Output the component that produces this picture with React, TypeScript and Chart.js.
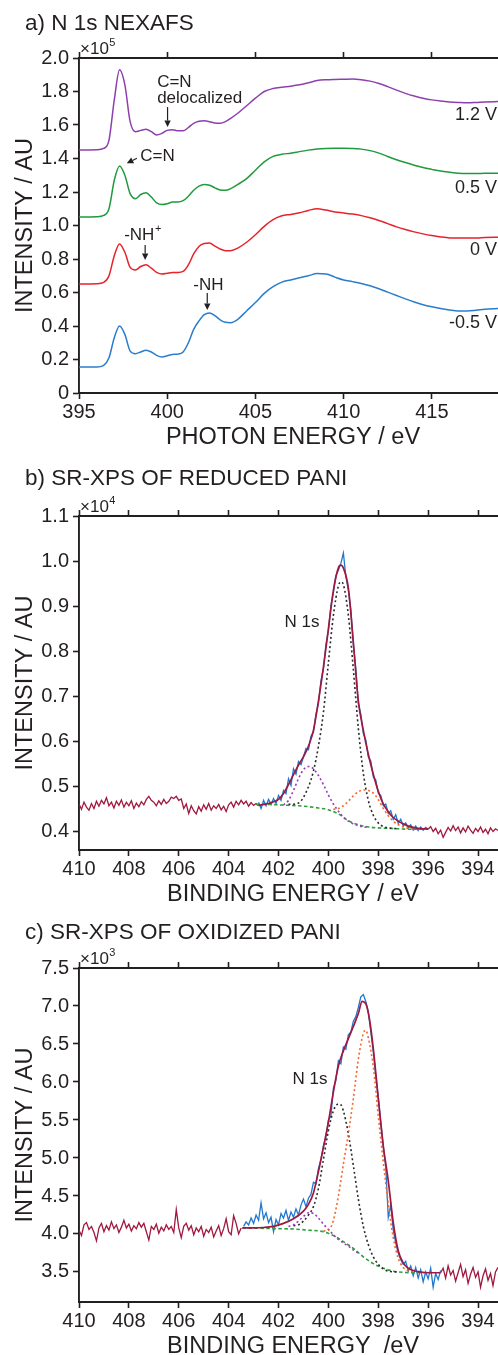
import React, { useEffect, useRef } from "react";
import { Chart, registerables } from "chart.js";

Chart.register(...registerables);

const FONT = '"Liberation Sans", Arial, Helvetica, sans-serif';
const INK = "#231f20";

type Pair = [number, number];

// ---------------- a) N 1s NEXAFS ----------------
const nexafsEnergy = [395, 396, 396.4, 396.7, 397.0, 397.3, 397.6, 397.9, 398.2, 398.5, 398.8, 399.1, 399.4, 399.7, 400.0, 400.3, 400.6, 400.9, 401.2, 401.5, 401.8, 402.1, 402.4, 402.7, 403.0, 403.3, 403.6, 404.0, 404.5, 405.0, 405.5, 406.0, 406.5, 407.0, 407.5, 408.0, 408.5, 409.0, 409.5, 410.0, 410.5, 411.0, 411.5, 412.0, 412.5, 413.0, 413.5, 414.0, 414.5, 415.0, 415.5, 416.0, 416.5, 417.0, 417.5, 418.0, 418.8];
const nexafsM05V = [0.155, 0.155, 0.165, 0.21, 0.33, 0.40, 0.35, 0.25, 0.235, 0.245,
  0.255, 0.245, 0.225, 0.215, 0.222, 0.23, 0.232, 0.245, 0.30, 0.38,
  0.43, 0.468, 0.478, 0.462, 0.437, 0.422, 0.42, 0.44, 0.49, 0.54,
  0.595, 0.635, 0.662, 0.675, 0.688, 0.70, 0.713, 0.711, 0.692, 0.675,
  0.665, 0.654, 0.64, 0.622, 0.602, 0.582, 0.562, 0.543, 0.527, 0.515,
  0.505, 0.496, 0.49, 0.49, 0.494, 0.50, 0.505];
const nexafs0V = [0.65, 0.652, 0.66, 0.70, 0.82, 0.89, 0.84, 0.75, 0.735, 0.755,
  0.765, 0.745, 0.72, 0.71, 0.715, 0.72, 0.72, 0.726, 0.765, 0.83,
  0.875, 0.892, 0.895, 0.877, 0.86, 0.85, 0.85, 0.865, 0.90, 0.945,
  0.995, 1.035, 1.058, 1.066, 1.076, 1.09, 1.10, 1.092, 1.081, 1.075,
  1.068, 1.059, 1.046, 1.03, 1.011, 0.992, 0.976, 0.962, 0.95, 0.94,
  0.932, 0.926, 0.925, 0.925, 0.925, 0.928, 0.93];
const nexafs05V = [1.05, 1.052, 1.06, 1.10, 1.27, 1.355, 1.30, 1.19, 1.16, 1.185,
  1.195, 1.17, 1.135, 1.125, 1.13, 1.14, 1.14, 1.148, 1.175, 1.21,
  1.235, 1.245, 1.24, 1.225, 1.212, 1.21, 1.22, 1.245, 1.28, 1.33,
  1.38, 1.413, 1.425, 1.432, 1.441, 1.45, 1.457, 1.46, 1.461, 1.461,
  1.46, 1.456, 1.447, 1.432, 1.412, 1.393, 1.376, 1.36, 1.346, 1.335,
  1.325, 1.318, 1.312, 1.31, 1.31, 1.312, 1.312];
const nexafs12V = [1.45, 1.452, 1.46, 1.51, 1.75, 1.93, 1.84, 1.62, 1.56, 1.568,
  1.575, 1.56, 1.54, 1.55, 1.568, 1.572, 1.565, 1.565, 1.585, 1.61,
  1.622, 1.625, 1.62, 1.612, 1.61, 1.62, 1.64, 1.67, 1.715, 1.76,
  1.80, 1.818, 1.826, 1.832, 1.84, 1.852, 1.865, 1.87, 1.872, 1.873,
  1.874, 1.87, 1.862, 1.848, 1.829, 1.808, 1.789, 1.773, 1.76, 1.75,
  1.743, 1.738, 1.735, 1.733, 1.735, 1.738, 1.74];
const nexafsXTicks = [395, 400, 405, 410, 415];
const nexafsYTicks = [0, 0.2, 0.4, 0.6, 0.8, 1.0, 1.2, 1.4, 1.6, 1.8, 2.0];

// ---------------- b) SR-XPS of reduced PANI (x10^4) ----------------
const xpsXTicks = [410, 408, 406, 404, 402, 400, 398, 396, 394];
const redYTicks = [0.4, 0.5, 0.6, 0.7, 0.8, 0.9, 1.0, 1.1];
// raw spectrum outside fit window, 0.1 eV steps starting at 410.0 eV
const redRawLeft = [0.462, 0.450, 0.466, 0.455, 0.448, 0.463, 0.452, 0.468, 0.457, 0.470,
  0.462, 0.476, 0.458, 0.466, 0.453, 0.468, 0.459, 0.471, 0.455, 0.466,
  0.458, 0.469, 0.452, 0.464, 0.456, 0.467, 0.460, 0.472, 0.479, 0.470,
  0.466, 0.458, 0.469, 0.461, 0.472, 0.463, 0.468, 0.477, 0.474, 0.479,
  0.470, 0.473, 0.452, 0.462, 0.441, 0.458, 0.447, 0.440, 0.456, 0.446,
  0.460, 0.450, 0.463, 0.448, 0.458, 0.452, 0.461, 0.449, 0.457, 0.445,
  0.460, 0.466, 0.455, 0.468, 0.460, 0.470, 0.462, 0.468, 0.457, 0.465,
  0.459, 0.463, 0.458];
// raw spectrum inside fit window, starting at 402.8 eV
const redRawFit = [0.466, 0.452, 0.470, 0.458, 0.472, 0.461, 0.474, 0.463, 0.481, 0.470,
  0.492, 0.485, 0.518, 0.503, 0.540, 0.528, 0.556, 0.549, 0.566, 0.585,
  0.582, 0.612, 0.621, 0.661, 0.684, 0.735, 0.760, 0.815, 0.846, 0.901,
  0.930, 0.968, 0.980, 0.995, 1.018, 0.966, 0.935, 0.892, 0.815, 0.762,
  0.684, 0.661, 0.618, 0.604, 0.566, 0.557, 0.522, 0.515, 0.486, 0.481,
  0.458, 0.462, 0.441, 0.447, 0.428, 0.438, 0.419, 0.428, 0.413, 0.420,
  0.409, 0.416, 0.404, 0.413, 0.403, 0.411, 0.404, 0.410, 0.406];
// raw spectrum right of fit window, starting at 396.0 eV
const redRawRight = [0.406, 0.412, 0.401, 0.408, 0.396, 0.404, 0.388, 0.399, 0.410, 0.402,
  0.414, 0.403, 0.411, 0.398, 0.409, 0.400, 0.413, 0.404, 0.397, 0.408,
  0.401, 0.411, 0.399, 0.406, 0.396, 0.409, 0.401, 0.407, 0.403];
const redEnvelope: Pair[] = [[402.8, 0.459], [402.6, 0.461], [402.4, 0.463], [402.2, 0.467], [402.0, 0.472], [401.8, 0.485], [401.6, 0.505], [401.4, 0.527], [401.2, 0.548], [401.0, 0.567], [400.8, 0.590], [400.6, 0.625], [400.4, 0.690], [400.2, 0.765], [400.0, 0.850], [399.8, 0.935], [399.6, 0.985], [399.5, 0.991], [399.4, 0.985], [399.2, 0.940], [399.0, 0.820], [398.8, 0.690], [398.6, 0.625], [398.4, 0.572], [398.2, 0.528], [398.0, 0.490], [397.8, 0.462], [397.6, 0.445], [397.4, 0.432], [397.2, 0.424], [397.0, 0.418], [396.8, 0.413], [396.6, 0.410], [396.4, 0.408], [396.2, 0.407], [396.0, 0.407]];
const redMainPeak: Pair[] = [[401.6, 0.461], [401.2, 0.464], [400.8, 0.500], [400.6, 0.535], [400.4, 0.590], [400.2, 0.665], [400.0, 0.775], [399.8, 0.880], [399.6, 0.945], [399.5, 0.954], [399.4, 0.948], [399.2, 0.880], [399.0, 0.760], [398.8, 0.630], [398.6, 0.530], [398.4, 0.470], [398.2, 0.437], [398.0, 0.420], [397.8, 0.412], [397.6, 0.409], [397.2, 0.407]];
const redHighPeak: Pair[] = [[401.8, 0.460], [401.6, 0.470], [401.4, 0.492], [401.2, 0.518], [401.0, 0.538], [400.8, 0.545], [400.6, 0.540], [400.4, 0.525], [400.2, 0.505], [400.0, 0.482], [399.8, 0.462], [399.6, 0.446], [399.4, 0.433], [399.2, 0.424], [399.0, 0.418], [398.8, 0.414], [398.6, 0.411], [398.4, 0.410]];
const redLowPeak: Pair[] = [[399.8, 0.450], [399.6, 0.452], [399.4, 0.458], [399.2, 0.468], [399.0, 0.480], [398.8, 0.489], [398.6, 0.493], [398.4, 0.492], [398.2, 0.486], [398.0, 0.472], [397.8, 0.452], [397.6, 0.436], [397.4, 0.424], [397.2, 0.416], [397.0, 0.411], [396.8, 0.408], [396.6, 0.407]];
const redBackground: Pair[] = [[402.9, 0.461], [402.4, 0.461], [402.0, 0.460], [401.6, 0.459], [401.2, 0.458], [400.8, 0.456], [400.4, 0.453], [400.0, 0.449], [399.6, 0.440], [399.2, 0.425], [398.8, 0.416], [398.4, 0.411], [398.0, 0.409], [397.6, 0.408], [397.2, 0.407], [396.8, 0.406], [396.4, 0.406], [396.0, 0.406]];

// ---------------- c) SR-XPS of oxidized PANI (x10^3) ----------------
const oxYTicks = [3.5, 4.0, 4.5, 5.0, 5.5, 6.0, 6.5, 7.0, 7.5];
// starting at 410.0 eV, 0.1 eV steps
const oxRawLeft = [4.05, 3.98, 4.12, 4.15, 4.06, 4.10, 4.02, 3.91, 4.08, 4.14,
  4.03, 4.11, 4.05, 4.16, 4.07, 4.12, 4.02, 4.09, 4.18, 4.08,
  4.13, 4.04, 4.11, 4.07, 4.15, 4.09, 4.14, 4.03, 3.92, 4.10,
  4.06, 4.13, 4.01, 4.09, 4.04, 4.12, 4.06, 4.10, 4.02, 4.32,
  4.08, 3.95, 4.10, 4.14, 4.05, 4.11, 3.99, 4.08, 4.03, 4.10,
  3.97, 4.06, 4.02, 4.09, 3.96, 4.04, 4.11, 3.98, 4.07, 4.20,
  4.03, 3.99, 4.24, 4.14, 4.00, 4.08];
// starting at 403.4 eV
const oxRawFit = [4.10, 4.16, 4.12, 4.21, 4.14, 4.25, 4.18, 4.41, 4.20, 4.28,
  4.15, 4.22, 4.03, 4.19, 4.12, 4.27, 4.21, 4.31, 4.18, 4.29,
  4.22, 4.33, 4.25, 4.38, 4.46, 4.36, 4.47, 4.52, 4.68, 4.66,
  4.86, 4.98, 5.16, 5.28, 5.50, 5.55, 5.92, 6.02, 6.28, 6.24,
  6.46, 6.43, 6.62, 6.66, 6.80, 6.86, 6.98, 7.12, 7.15, 7.06,
  6.92, 6.66, 6.40, 6.08, 5.80, 5.48, 5.15, 4.88, 4.22, 4.38,
  4.05, 3.88, 3.75, 3.66, 3.60, 3.64, 3.51, 3.58, 3.45, 3.56,
  3.42, 3.53, 3.37, 3.50, 3.41, 3.55, 3.30, 3.48, 3.40, 3.52];
// starting at 395.5 eV
const oxRawRight = [3.49, 3.55, 3.42, 3.58, 3.46, 3.52, 3.38, 3.49, 3.60, 3.44,
  3.53, 3.35, 3.47, 3.56, 3.43, 3.50, 3.30, 3.45, 3.54, 3.39,
  3.48, 3.32, 3.50, 3.56];
const oxEnvelope: Pair[] = [[403.45, 4.08], [403.0, 4.08], [402.6, 4.085], [402.2, 4.10], [401.8, 4.14], [401.4, 4.20], [401.0, 4.30], [400.8, 4.39], [400.6, 4.54], [400.4, 4.82], [400.2, 5.14], [400.0, 5.47], [399.8, 5.87], [399.6, 6.21], [399.4, 6.41], [399.2, 6.57], [399.0, 6.73], [398.8, 6.90], [398.65, 7.06], [398.5, 7.03], [398.35, 6.82], [398.2, 6.44], [398.0, 5.78], [397.8, 5.16], [397.6, 4.70], [397.4, 4.15], [397.2, 3.78], [397.0, 3.62], [396.8, 3.55], [396.6, 3.52], [396.3, 3.50], [396.0, 3.49], [395.5, 3.49]];
const oxMainPeak: Pair[] = [[401.4, 4.11], [401.2, 4.12], [401.0, 4.17], [400.8, 4.25], [400.6, 4.36], [400.4, 4.60], [400.2, 4.98], [400.0, 5.36], [399.8, 5.62], [399.6, 5.71], [399.5, 5.70], [399.4, 5.62], [399.2, 5.32], [399.0, 4.90], [398.8, 4.46], [398.6, 4.10], [398.4, 3.86], [398.2, 3.70], [398.0, 3.60], [397.8, 3.54], [397.6, 3.51], [397.2, 3.50]];
const oxLowPeak: Pair[] = [[400.2, 4.04], [400.0, 4.05], [399.8, 4.18], [399.6, 4.50], [399.4, 4.92], [399.2, 5.32], [399.0, 5.78], [398.8, 6.30], [398.6, 6.64], [398.5, 6.68], [398.4, 6.58], [398.2, 6.20], [398.0, 5.55], [397.8, 4.95], [397.6, 4.40], [397.4, 3.95], [397.2, 3.68], [397.0, 3.56], [396.8, 3.52], [396.5, 3.50]];
const oxHighPeak: Pair[] = [[401.6, 4.10], [401.4, 4.12], [401.2, 4.17], [401.0, 4.23], [400.8, 4.28], [400.6, 4.27], [400.4, 4.21], [400.2, 4.13], [400.0, 4.06], [399.8, 3.99], [399.6, 3.93], [399.4, 3.88], [399.2, 3.84], [399.0, 3.79], [398.8, 3.75]];
const oxBackground: Pair[] = [[403.45, 4.08], [402.8, 4.075], [402.0, 4.07], [401.4, 4.065], [400.8, 4.05], [400.2, 4.03], [399.8, 3.98], [399.4, 3.90], [399.0, 3.81], [398.6, 3.70], [398.2, 3.61], [397.8, 3.55], [397.4, 3.51], [397.0, 3.495], [396.5, 3.49], [395.9, 3.49]];

// ---------------- helpers ----------------
const zip = (xs: number[], ys: number[]) => xs.map((x, i) => ({ x, y: ys[i] }));
const fromPairs = (p: Pair[]) => p.map(([x, y]) => ({ x, y }));
const stepDown = (start: number, values: number[]) =>
  values.map((v, i) => ({ x: Math.round((start - i * 0.1) * 100) / 100, y: v }));

const COL = {
  purple: "#8e3fae",
  green: "#1f9a3c",
  red: "#e5232b",
  blue: "#2a7dcc",
  xpsBlue: "#1f78cf",
  xpsRed: "#a0173f",
  dotBlack: "#2b2b2b",
  dotOrange: "#f0692a",
  dotPurple: "#9a3db8",
  dashGreen: "#2e9e3e",
};

const line = (data: any[], color: string, width: number, smooth: boolean, dash: number[] = []) => ({
  data,
  borderColor: color,
  borderWidth: width,
  borderDash: dash,
  pointRadius: 0,
  fill: false,
  tension: 0,
  cubicInterpolationMode: smooth ? "monotone" : "default",
});

function drawArrow(ctx: CanvasRenderingContext2D, x1: number, y1: number, x2: number, y2: number) {
  const ang = Math.atan2(y2 - y1, x2 - x1);
  const hl = 6.5, hw = 3.2;
  const bx = x2 - hl * Math.cos(ang), by = y2 - hl * Math.sin(ang);
  ctx.strokeStyle = INK;
  ctx.lineWidth = 1.2;
  ctx.beginPath();
  ctx.moveTo(x1, y1);
  ctx.lineTo(bx, by);
  ctx.stroke();
  ctx.beginPath();
  ctx.moveTo(x2, y2);
  ctx.lineTo(bx + hw * Math.sin(ang), by - hw * Math.cos(ang));
  ctx.lineTo(bx - hw * Math.sin(ang), by + hw * Math.cos(ang));
  ctx.closePath();
  ctx.fill();
}

function label(ctx: CanvasRenderingContext2D, t: string, x: number, y: number, size: number, align: CanvasTextAlign = "left") {
  ctx.font = `${size}px ${FONT}`;
  ctx.textAlign = align;
  ctx.fillText(t, x, y);
}

type Px = (v: number) => number;

interface Spec {
  title: string;
  titleY: number;
  xTitle: string;
  exp: string;
  xMin: number;
  xMax: number;
  reverse: boolean;
  yMin: number;
  yMax: number;
  xTicks: number[];
  yTicks: number[];
  yFmt: (v: number) => string;
  padTop: number;
  xAxisH: number;
  datasets: any[];
  extra: (ctx: CanvasRenderingContext2D, px: Px, py: Px) => void;
}

const specA: Spec = {
  title: "a) N 1s NEXAFS",
  titleY: 29.5,
  xTitle: "PHOTON ENERGY / eV",
  exp: "5",
  xMin: 395,
  xMax: 418.75,
  reverse: false,
  yMin: 0,
  yMax: 2.0,
  xTicks: nexafsXTicks,
  yTicks: nexafsYTicks,
  yFmt: (v) => (v === 0 ? "0" : v.toFixed(1)),
  padTop: 58,
  xAxisH: 57,
  datasets: [
    line(zip(nexafsEnergy, nexafs12V), COL.purple, 1.5, true),
    line(zip(nexafsEnergy, nexafs05V), COL.green, 1.5, true),
    line(zip(nexafsEnergy, nexafs0V), COL.red, 1.5, true),
    line(zip(nexafsEnergy, nexafsM05V), COL.blue, 1.5, true),
  ],
  extra: (ctx, px, py) => {
    label(ctx, "C=N", px(399.43), py(1.827), 17);
    label(ctx, "delocalized", px(399.43), py(1.731), 17);
    drawArrow(ctx, px(400.02), py(1.707), px(400.02), py(1.588));
    label(ctx, "C=N", px(398.47), py(1.385), 17);
    drawArrow(ctx, px(398.28), py(1.401), px(397.71), py(1.371));
    label(ctx, "-NH", px(397.56), py(0.913), 17);
    ctx.font = `17px ${FONT}`;
    const w = ctx.measureText("-NH").width;
    label(ctx, "+", px(397.56) + w + 0.5, py(0.913) - 8, 11);
    drawArrow(ctx, px(398.75), py(0.884), px(398.75), py(0.794));
    label(ctx, "-NH", px(401.48), py(0.615), 17);
    drawArrow(ctx, px(402.27), py(0.597), px(402.27), py(0.496));
    label(ctx, "1.2 V", px(418.7), py(1.63), 18, "right");
    label(ctx, "0.5 V", px(418.7), py(1.194), 18, "right");
    label(ctx, "0 V", px(418.7), py(0.824), 18, "right");
    label(ctx, "-0.5 V", px(418.7), py(0.388), 18, "right");
  },
};

const specB: Spec = {
  title: "b) SR-XPS OF REDUCED PANI",
  titleY: 30,
  xTitle: "BINDING ENERGY / eV",
  exp: "4",
  xMin: 393.2,
  xMax: 410,
  reverse: true,
  yMin: 0.36,
  yMax: 1.1,
  xTicks: xpsXTicks,
  yTicks: redYTicks,
  yFmt: (v) => v.toFixed(1),
  padTop: 61,
  xAxisH: 55,
  datasets: [
    line(fromPairs(redEnvelope), COL.xpsRed, 1.7, true),
    line(fromPairs(redLowPeak), COL.dotOrange, 1.6, true, [2, 2.6]),
    line(fromPairs(redHighPeak), COL.dotPurple, 1.6, true, [2, 2.6]),
    line(fromPairs(redMainPeak), COL.dotBlack, 1.6, true, [2, 2.6]),
    line(fromPairs(redBackground), COL.dashGreen, 1.6, true, [3.5, 2.5]),
    line(stepDown(402.8, redRawFit), COL.xpsBlue, 1.3, false),
    line(stepDown(410.0, redRawLeft), COL.xpsRed, 1.3, false),
    line(stepDown(396.0, redRawRight), COL.xpsRed, 1.3, false),
  ],
  extra: (ctx, px, py) => {
    label(ctx, "N 1s", px(401.76), py(0.854), 17);
  },
};

const specC: Spec = {
  title: "c) SR-XPS OF OXIDIZED PANI",
  titleY: 34,
  xTitle: "BINDING ENERGY  /eV",
  exp: "3",
  xMin: 393.2,
  xMax: 410,
  reverse: true,
  yMin: 3.105,
  yMax: 7.5,
  xTicks: xpsXTicks,
  yTicks: oxYTicks,
  yFmt: (v) => v.toFixed(1),
  padTop: 63,
  xAxisH: 53,
  datasets: [
    line(fromPairs(oxEnvelope), COL.xpsRed, 1.7, true),
    line(fromPairs(oxLowPeak), COL.dotOrange, 1.6, true, [2, 2.6]),
    line(fromPairs(oxHighPeak), COL.dotPurple, 1.6, true, [2, 2.6]),
    line(fromPairs(oxMainPeak), COL.dotBlack, 1.6, true, [2, 2.6]),
    line(fromPairs(oxBackground), COL.dashGreen, 1.6, true, [3.5, 2.5]),
    line(stepDown(403.4, oxRawFit), COL.xpsBlue, 1.3, false),
    line(stepDown(410.0, oxRawLeft), COL.xpsRed, 1.3, false),
    line(stepDown(395.5, oxRawRight), COL.xpsRed, 1.3, false),
  ],
  extra: (ctx, px, py) => {
    label(ctx, "N 1s", px(401.44), py(5.97), 17);
  },
};

function panelPlugin(spec: Spec) {
  return {
    id: "panelText",
    afterDraw(chart: any) {
      const { ctx, chartArea: ca } = chart;
      const xs = chart.scales.x;
      const ys = chart.scales.y;
      const px = (v: number) => xs.getPixelForValue(v);
      const py = (v: number) => ys.getPixelForValue(v);
      ctx.save();
      ctx.fillStyle = INK;
      ctx.textBaseline = "alphabetic";
      label(ctx, spec.title, 25, spec.titleY, 22.5);
      label(ctx, "×10", ca.left + 1, ca.top - 4, 17);
      ctx.font = `17px ${FONT}`;
      const w = ctx.measureText("×10").width;
      label(ctx, spec.exp, ca.left + 1 + w + 0.5, ca.top - 12, 11);
      label(ctx, spec.xTitle, 293, ca.bottom + 51, 23.5, "center");
      ctx.save();
      ctx.translate(32, (ca.top + ca.bottom) / 2);
      ctx.rotate(-Math.PI / 2);
      label(ctx, "INTENSITY / AU", 0, 0, 23.5, "center");
      ctx.restore();
      spec.extra(ctx, px, py);
      ctx.restore();
    },
  };
}

function buildConfig(spec: Spec): any {
  const tickFont = { family: FONT, size: 20 };
  const grid = { drawOnChartArea: false, drawTicks: true, tickLength: 6, tickWidth: 1.6, color: INK };
  const border = { display: true, color: INK, width: 1.9 };
  const setX = (s: any) => {
    s.ticks = spec.xTicks.map((v) => ({ value: v }));
  };
  return {
    type: "line",
    data: { datasets: spec.datasets },
    options: {
      responsive: false,
      animation: false,
      devicePixelRatio: 1,
      events: [],
      layout: { padding: { top: spec.padTop, left: 0, right: 0, bottom: 0 } },
      plugins: { legend: { display: false }, tooltip: { enabled: false }, title: { display: false } },
      scales: {
        x: {
          type: "linear",
          position: "bottom",
          min: spec.xMin,
          max: spec.xMax,
          reverse: spec.reverse,
          afterBuildTicks: setX,
          afterFit: (s: any) => {
            s.height = spec.xAxisH;
            s.paddingLeft = 0;
            s.paddingRight = 0;
          },
          ticks: { font: tickFont, color: INK, padding: 1, maxRotation: 0, autoSkip: false, callback: (v: number) => String(v) },
          grid,
          border,
        },
        x2: {
          type: "linear",
          position: "top",
          min: spec.xMin,
          max: spec.xMax,
          reverse: spec.reverse,
          afterBuildTicks: setX,
          afterFit: (s: any) => {
            s.height = 0;
            s.paddingLeft = 0;
            s.paddingRight = 0;
          },
          ticks: { display: false },
          grid,
          border,
        },
        y: {
          type: "linear",
          position: "left",
          min: spec.yMin,
          max: spec.yMax,
          afterBuildTicks: (s: any) => {
            s.ticks = spec.yTicks.map((v) => ({ value: v }));
          },
          afterFit: (s: any) => {
            s.width = 79;
            s.paddingTop = 0;
            s.paddingBottom = 0;
          },
          ticks: { font: tickFont, color: INK, padding: 4, autoSkip: false, callback: (v: number) => spec.yFmt(v) },
          grid,
          border,
        },
      },
    },
    plugins: [panelPlugin(spec)],
  };
}

function Panel({ spec, top }: { spec: Spec; top: number }) {
  const ref = useRef<HTMLCanvasElement>(null);
  useEffect(() => {
    if (!ref.current) return;
    const chart = new Chart(ref.current, buildConfig(spec));
    return () => chart.destroy();
  }, [spec]);
  return (
    <canvas
      ref={ref}
      width={498}
      height={450}
      style={{ position: "absolute", left: 0, top, width: 498, height: 450, display: "block" }}
    />
  );
}

export default function App() {
  return (
    <div style={{ position: "absolute", left: 0, top: 0, width: 498, height: 1355, background: "#fff", overflow: "hidden" }}>
      <Panel spec={specA} top={0} />
      <Panel spec={specB} top={455} />
      <Panel spec={specC} top={905} />
    </div>
  );
}
